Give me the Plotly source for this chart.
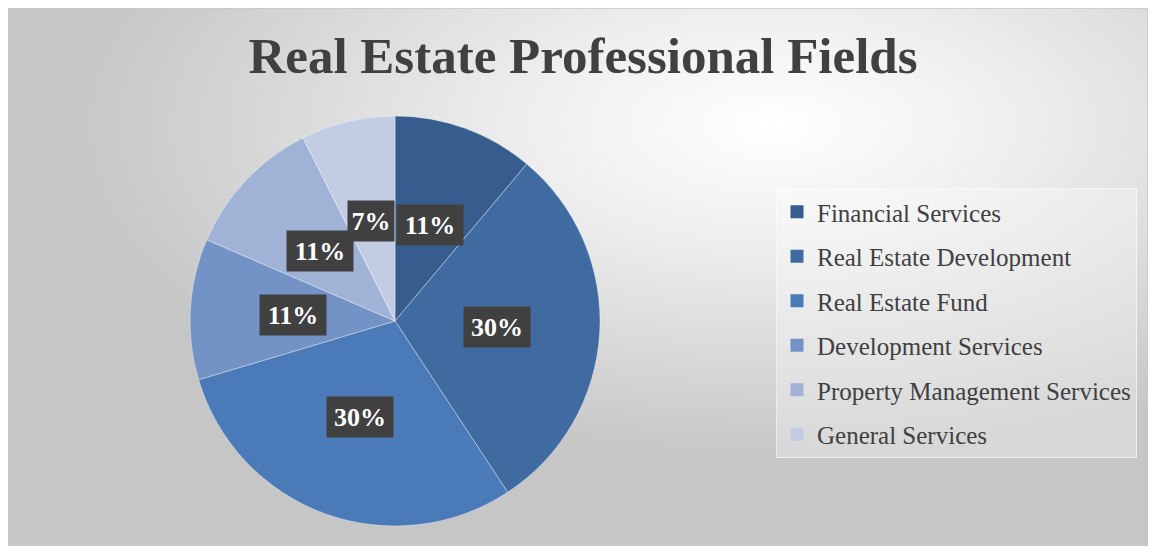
import base64
import math
import plotly.graph_objects as go

# Datos del gráfico
categorias = ["Financial Services", "Real Estate Development", "Real Estate Fund",
              "Development Services", "Property Management Services", "General Services"]
valores = [3, 8, 8, 3, 3, 2]
colores = ["#365d8d", "#3f6ba1", "#4a7ab7", "#7393c6", "#a0b3d7", "#c2cde3"]
titulo = "Real Estate Professional Fields"

# La página tiene 8 px de margen en el body
OFF = 8
W, H = 1140, 538
FUENTE = "Liberation Serif"


def px_x(p):
    return (p - OFF) / W


def px_y(p):
    return 1 - (p - OFF) / H


# Posición del pastel (px de la página)
cx, cy, radio = 395, 321, 205

# Fondo con degradado radial (imagen SVG)
svg = f"""<svg xmlns='http://www.w3.org/2000/svg' width='{W}' height='{H}'>
<defs><radialGradient id='g' cx='0.67' cy='0.22' r='0.62'>
<stop offset='0' stop-color='#ffffff'/><stop offset='0.35' stop-color='#eeeeee'/>
<stop offset='1' stop-color='#c6c6c6'/></radialGradient></defs>
<rect width='{W}' height='{H}' fill='url(#g)'/></svg>"""
fondo = "data:image/svg+xml;base64," + base64.b64encode(svg.encode()).decode()

fig = go.Figure()

fig.add_trace(go.Pie(
    labels=categorias,
    values=valores,
    sort=False,
    direction="clockwise",
    rotation=0,
    marker=dict(colors=colores, line=dict(color="rgba(255,255,255,0.45)", width=0.8)),
    textinfo="none",
    showlegend=False,
    domain=dict(x=[px_x(cx - radio), px_x(cx + radio)],
                y=[px_y(cy + radio), px_y(cy - radio)]),
))

# Leyenda con trazas auxiliares (para controlar el espaciado)
for cat, col in zip(categorias, colores):
    fig.add_trace(go.Scatter(
        x=[None], y=[None], mode="markers", name=cat, legendgroup=cat,
        marker=dict(symbol="square", size=13, color=col),
    ))

# Etiquetas de porcentaje en cajas oscuras, a la mitad del radio
total = sum(valores)
acum = 0
for v in valores:
    ang = (acum + v / 2) / total * 2 * math.pi
    acum += v
    x = cx + 0.5 * radio * math.sin(ang)
    y = cy - 0.5 * radio * math.cos(ang)
    etiqueta = f"{round(v / total * 100)}%"
    fig.add_annotation(
        x=px_x(x), y=px_y(y), xref="paper", yref="paper",
        xanchor="center", yanchor="middle",
        text=f"<b>{etiqueta}</b>", showarrow=False,
        font=dict(family=FUENTE, size=26, color="white"),
        bgcolor="#404040", borderpad=3,
        width=20 * len(etiqueta), height=34,
    )

fig.add_layout_image(dict(
    source=fondo, xref="paper", yref="paper", x=0, y=1,
    sizex=1, sizey=1, sizing="stretch", layer="below",
))

fig.add_shape(type="rect", xref="paper", yref="paper",
              x0=0, x1=1, y0=0, y1=1,
              line=dict(color="#c8c8c8", width=1.5))

fig.update_layout(
    width=W, height=H,
    margin=dict(l=0, r=0, t=0, b=0),
    paper_bgcolor="white",
    plot_bgcolor="rgba(0,0,0,0)",
    title=dict(text=f"<b>{titulo}</b>", x=px_x(583), xanchor="center",
               y=px_y(55), yanchor="middle",
               font=dict(family=FUENTE, size=51, color="#404040")),
    xaxis=dict(visible=False),
    yaxis=dict(visible=False),
    legend=dict(x=px_x(776), y=px_y(188), xanchor="left", yanchor="top",
                bgcolor="rgba(255,255,255,0.3)", bordercolor="rgba(255,255,255,0.6)",
                borderwidth=1, tracegroupgap=9,
                font=dict(family=FUENTE, size=25, color="#404040")),
)

fig.write_html("out.html")
